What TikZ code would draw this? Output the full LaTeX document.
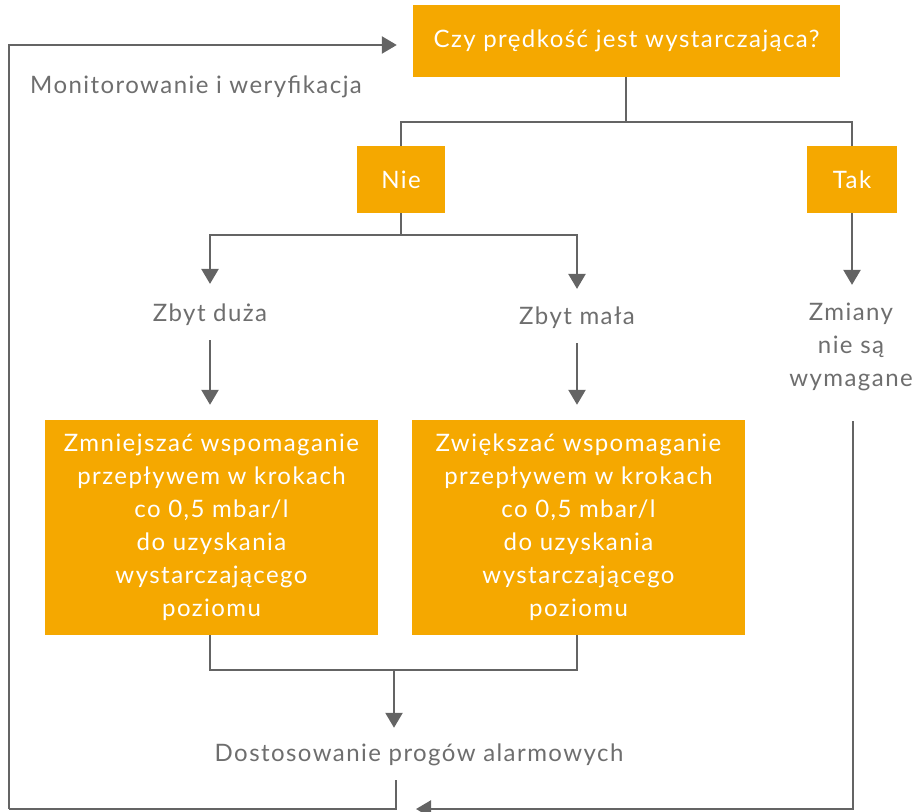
\documentclass[tikz,border=0pt]{standalone}
\usepackage{fontspec}
\setmainfont{Lato}[LetterSpace=6]
\usetikzlibrary{arrows.meta,positioning}
\definecolor{corange}{RGB}{245,168,0}
\definecolor{cgray}{RGB}{100,100,100}
\definecolor{ctext}{RGB}{110,110,110}
\tikzset{flowsec/.style={x=1pt,y=-1pt,font=\fontsize{24}{33}\selectfont},
  obox/.style={fill=corange,text=white,inner sep=0pt,align=center},
  lbl/.style={text=ctext,inner sep=0pt,align=center},
  conn/.style={cgray,line width=2.4pt},
  arr/.style={conn,-{Triangle[width=17pt,length=15pt]}}}

\begin{document}
\begin{tikzpicture}[flowsec]
    \useasboundingbox (0,0) rectangle (917,811);
    \node[obox,minimum width=427pt,minimum height=72pt] (q) at (626.5,41) {Czy prędkość jest wystarczająca?};
    \node[obox,minimum width=88pt,minimum height=67pt] (nie) at (401,179.5) {Nie};
    \node[obox,minimum width=90pt,minimum height=67pt] (tak) at (852,179.5) {Tak};
    \node[lbl] (duza) at (210,315) {Zbyt duża};
    \node[lbl] (mala) at (577,318) {Zbyt mała};
    \node[lbl] (nreq) at (851,347) {Zmiany\\nie są\\wymagane};
    \node[obox,minimum width=333pt,minimum height=215pt] (zmn) at (211.5,527.5)
      {Zmniejszać wspomaganie\\przepływem w krokach\\co 0,5 mbar/l\\do uzyskania\\wystarczającego\\poziomu};
    \node[obox,minimum width=333pt,minimum height=215pt] (zwi) at (578.5,527.5)
      {Zwiększać wspomaganie\\przepływem w krokach\\co 0,5 mbar/l\\do uzyskania\\wystarczającego\\poziomu};
    \node[lbl] (adj) at (419,755) {Dostosowanie progów alarmowych};
    \node[lbl,anchor=west] (mon) at (30,87) {Monitorowanie i weryfikacja};
    % junction points
    \coordinate (s1) at (626,122);
    \coordinate (s2) at (401,235);
    \coordinate (m) at (394,670);
    \coordinate (tl) at (9,45);
    \coordinate (bl) at (9,809);
    \coordinate (b1) at (396,809);
    \coordinate (br) at (853,809);
    % top split
    \draw[conn] (q.south -| s1) -- (s1);
    \draw[conn] (s1) -| (nie.north);
    \draw[conn] (s1) -| (tak.north);
    % Nie branch
    \draw[conn] (nie.south) -- (s2);
    \draw[arr,shorten >=20pt] (s2) -| (duza.north);
    \draw[arr,shorten >=18pt] (s2) -| (mala.north);
    \draw[arr,shorten <=14pt,shorten >=15pt] (duza.south) -- (zmn.north -| duza.south);
    \draw[arr,shorten <=14pt,shorten >=15pt] (mala.south) -- (zwi.north -| mala.south);
    % merge
    \draw[conn] (zmn.south -| duza.south) |- (m);
    \draw[conn] (zwi.south -| mala.south) |- (m);
    \draw[arr,shorten >=16pt] (m) -- (adj.north -| m);
    % Tak branch
    \draw[arr,shorten >=18pt] (tak.south) -- (nreq.north -| tak.south);
    % feedback loop
    \draw[conn,shorten <=14pt] (adj.south -| b1) -- (b1) -- (bl);
    \draw[arr,shorten >=16pt] (bl) -- (tl) -- ([yshift=-4pt]q.west);
    \draw[arr,shorten <=30pt,shorten >=20pt] (nreq.south -| br) -- (br) -- (b1);
  \end{tikzpicture}
\end{document}
